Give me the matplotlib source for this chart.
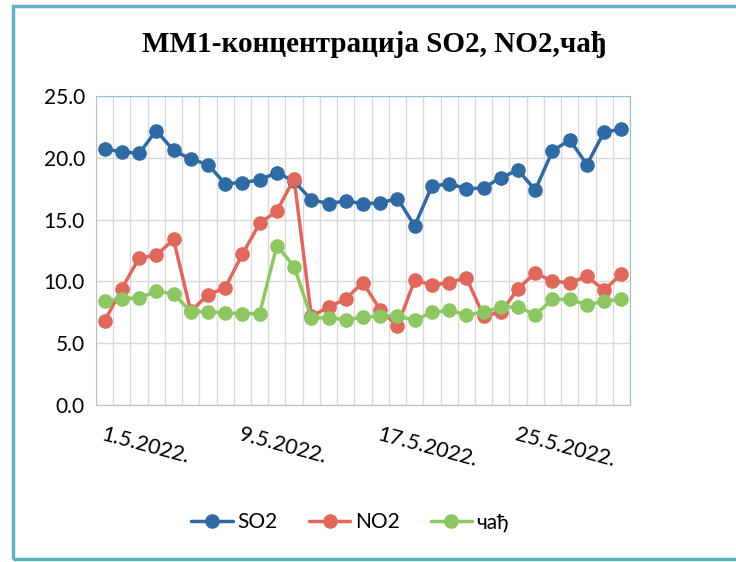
import matplotlib
matplotlib.use("Agg")
import matplotlib.pyplot as plt
from matplotlib.patches import Rectangle

# Daily values, 1.5.2022 - 31.5.2022
days = [f"{d}.5.2022." for d in range(1, 32)]
so2 = [20.7, 20.5, 20.35, 22.2, 20.6, 19.9, 19.45, 17.9, 18.0, 18.2, 18.8,
       18.1, 16.6, 16.3, 16.5, 16.3, 16.35, 16.7, 14.5, 17.7, 17.9, 17.5,
       17.55, 18.4, 19.0, 17.4, 20.55, 21.45, 19.45, 22.1, 22.3]
no2 = [6.8, 9.4, 11.9, 12.1, 13.4, 7.6, 8.9, 9.5, 12.2, 14.7, 15.7,
       18.3, 7.2, 7.9, 8.6, 9.9, 7.7, 6.4, 10.1, 9.7, 9.9, 10.3,
       7.2, 7.5, 9.4, 10.7, 10.0, 9.9, 10.4, 9.3, 10.6]
soot = [8.4, 8.6, 8.65, 9.2, 9.0, 7.55, 7.55, 7.45, 7.4, 7.4, 12.9,
        11.2, 7.05, 7.05, 6.9, 7.1, 7.2, 7.2, 6.85, 7.5, 7.65, 7.3,
        7.5, 7.9, 7.95, 7.3, 8.55, 8.55, 8.1, 8.4, 8.55]
series_names = ["SO2", "NO2", "чађ"]
colors = ["#2f6aa3", "#e0675c", "#8cc762"]
yticks = [0, 5, 10, 15, 20, 25]
label_every = 8

plt.rcParams["font.family"] = ["Lato", "DejaVu Sans"]

fig = plt.figure(figsize=(7.36, 5.62), dpi=100)
ax = fig.add_axes([96 / 736, 1 - 405 / 562, (630 - 96) / 736, (405 - 96) / 562])

x = list(range(len(days)))
for vals, name, c in zip([so2, no2, soot], series_names, colors):
    ax.plot(x, vals, color=c, lw=2.5, marker="o", ms=9.5, label=name,
            solid_capstyle="round")

ax.set_xlim(-0.5, len(days) - 0.5)
ax.set_ylim(0, 25)
ax.set_yticks(yticks)
ax.set_yticklabels([f"{v:.1f}" for v in yticks], fontsize=15)
ax.tick_params(axis="y", length=0, pad=8)
ax.tick_params(axis="x", length=0, pad=14)

# vertical grid between categories, horizontal at major ticks
for b in range(len(days) + 1):
    ax.axvline(b - 0.5, color="#d9d9d9", lw=1, zorder=0)
ax.grid(axis="y", color="#d9d9d9", lw=1, zorder=0)

ticks = x[::label_every]
ax.set_xticks(ticks)
ax.set_xticklabels(days[::label_every], fontsize=15.5, rotation=-15,
                   ha="left", rotation_mode="anchor")

for side in ["left", "bottom"]:
    ax.spines[side].set_color("#bfbfbf")
for side in ["top", "right"]:
    ax.spines[side].set_color("#8fc4cc")

fig.text(0.508, 1 - 45 / 562, "ММ1-концентрација SO2, NO2,чађ",
         ha="center", va="center", fontsize=21, fontweight="bold",
         family="Liberation Serif")

fig.legend(loc="center", bbox_to_anchor=(0.476, 1 - 522 / 562), ncol=3,
           frameon=False, fontsize=15, handlelength=2.0, columnspacing=1.5,
           handletextpad=0.2)

# outer frame of the scanned chart
fig.patches.append(Rectangle((13 / 736, 3 / 562), 0.99, 1 - 9 / 562,
                             transform=fig.transFigure, fill=False,
                             edgecolor="#5fb3c0", lw=2.5))

fig.savefig("out.png", dpi=100)
